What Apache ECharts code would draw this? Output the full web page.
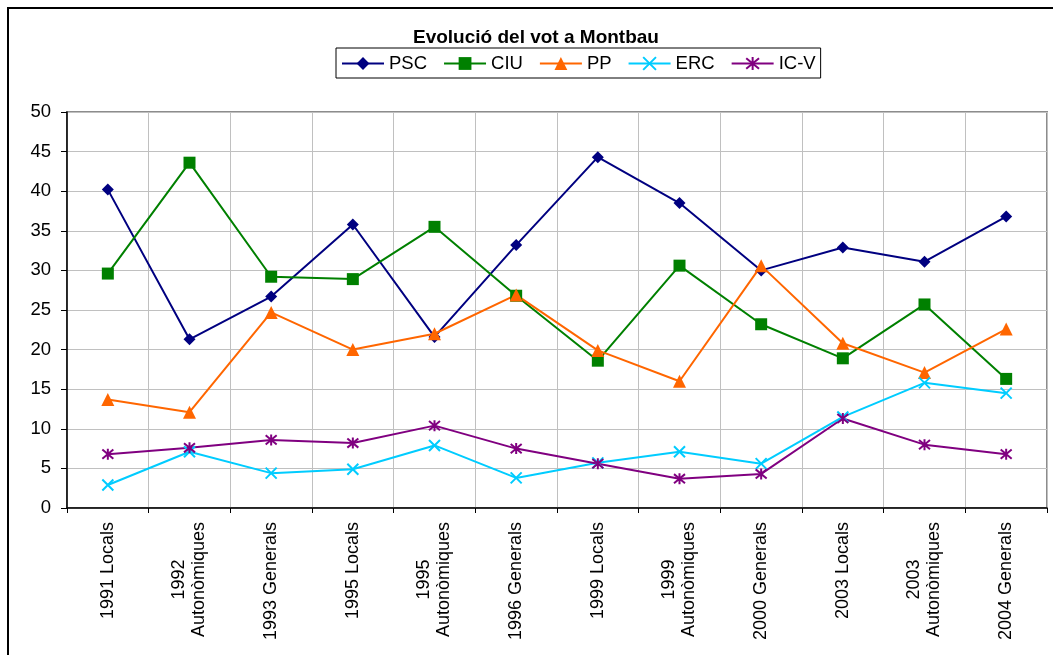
<!DOCTYPE html>
<html><head><meta charset="utf-8">
<script src="https://cdn.jsdelivr.net/npm/echarts@6/dist/echarts.min.js"></script>
<style>html,body{margin:0;padding:0;background:#fff}#c{width:1053px;height:655px}</style>
</head><body><div id="c"></div>
<script>
const categories = ['1991 Locals', '1992\nAutonòmiques', '1993 Generals', '1995 Locals', '1995\nAutonòmiques', '1996 Generals', '1999 Locals', '1999\nAutonòmiques', '2000 Generals', '2003 Locals', '2003\nAutonòmiques', '2004 Generals'];
const psc = [40.2, 21.3, 26.7, 35.8, 21.6, 33.2, 44.3, 38.5, 30.0, 32.9, 31.1, 36.8];
const ciu = [29.6, 43.6, 29.2, 28.9, 35.5, 26.8, 18.6, 30.6, 23.2, 18.9, 25.7, 16.3];
const pp = [13.7, 12.1, 24.7, 20.0, 22.0, 26.9, 19.9, 16.0, 30.6, 20.8, 17.1, 22.6];
const erc = [2.9, 7.1, 4.4, 4.9, 7.9, 3.8, 5.7, 7.1, 5.6, 11.5, 15.8, 14.5];
const icv = [6.8, 7.6, 8.6, 8.2, 10.4, 7.5, 5.6, 3.7, 4.3, 11.3, 8.0, 6.8];
const seriesNames = ['PSC', 'CIU', 'PP', 'ERC', 'IC-V'];
const yTicks = [0, 5, 10, 15, 20, 25, 30, 35, 40, 45, 50];

const FONT = '"Liberation Sans", Arial, sans-serif';
const crossPath = 'path://M0,0L10,10M10,0L0,10';
const starPath = 'path://M0,0L10,10M10,0L0,10M5,-1L5,11';

function mk(name, data, color, symbol, size, stroked) {
  return {
    name: name, type: 'line', data: data,
    symbol: symbol, symbolSize: size,
    lineStyle: { color: color, width: 2 },
    itemStyle: stroked ? { color: color, borderColor: color, borderWidth: 2 } : { color: color, borderWidth: 0 },
    emphasis: { disabled: true },
    z: 2
  };
}

const chart = echarts.init(document.getElementById('c'), null, { renderer: 'canvas' });
chart.setOption({
  animation: false,
  backgroundColor: '#fff',
  graphic: [{
    type: 'rect', silent: true, z: -1,
    shape: { x: 8, y: 8, width: 1200, height: 800 },
    style: { fill: 'none', stroke: '#000', lineWidth: 2 }
  }],
  title: {
    text: 'Evolució del vot a Montbau',
    left: 413, top: 28, padding: 0,
    textStyle: { fontFamily: FONT, fontWeight: 'bold', fontSize: 19, color: '#000' }
  },
  legend: {
    data: seriesNames,
    left: 336, top: 48,
    padding: [6, 5, 5, 5],
    itemWidth: 42, itemHeight: 16, itemGap: 16,
    borderColor: '#000', borderWidth: 1,
    textStyle: { fontFamily: FONT, fontSize: 18.5, color: '#000' }
  },
  grid: {
    left: 67, right: 6, top: 112, bottom: 147,
    containLabel: false, outerBoundsMode: 'none',
    show: true, borderColor: '#8c8c8c', borderWidth: 2, backgroundColor: 'transparent'
  },
  xAxis: {
    type: 'category', data: categories, boundaryGap: true,
    axisLine: { show: true, lineStyle: { color: '#000', width: 1.5 } },
    axisTick: { show: true, inside: false, length: 5, lineStyle: { color: '#000' }, alignWithLabel: false, interval: 0 },
    splitLine: { show: true, interval: 0, lineStyle: { color: '#c0c0c0', width: 1 } },
    axisLabel: {
      interval: 0, rotate: 90, margin: 14, color: '#000',
      fontFamily: FONT, fontSize: 18, lineHeight: 20,
      formatter: function (v) { return v.split('\n').map(function (s) { return '{c|' + s + '}'; }).join('\n'); },
      rich: { c: { align: 'center', fontFamily: FONT, fontSize: 18, lineHeight: 20, color: '#000' } }
    }
  },
  yAxis: {
    type: 'value', min: yTicks[0], max: yTicks[yTicks.length - 1], interval: yTicks[1] - yTicks[0],
    axisLine: { show: true, lineStyle: { color: '#000', width: 1.5 } },
    axisTick: { show: true, inside: false, length: 6, lineStyle: { color: '#000' } },
    splitLine: { show: true, lineStyle: { color: '#c0c0c0', width: 1 } },
    axisLabel: { margin: 16, color: '#000', fontFamily: FONT, fontSize: 18.5 }
  },
  series: [
    mk('PSC', psc, '#000080', 'diamond', 12, false),
    mk('CIU', ciu, '#008000', 'rect', 12, false),
    mk('PP', pp, '#ff6600', 'triangle', 13, false),
    mk('ERC', erc, '#00ccff', crossPath, 11, true),
    mk('IC-V', icv, '#800080', starPath, 11, true)
  ]
});
</script>
</body></html>
